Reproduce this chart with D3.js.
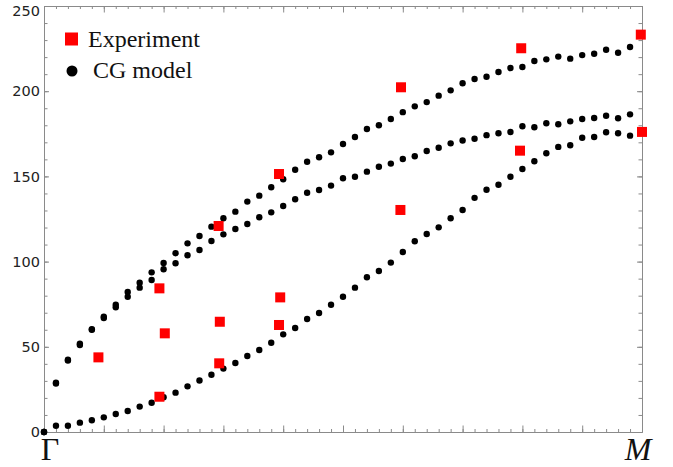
<!DOCTYPE html>
<html>
<head>
<meta charset="utf-8">
<script src="https://cdn.jsdelivr.net/npm/d3@7"></script>
<style>
  body { margin: 0; background: #fff; }
  .axis path, .axis line { stroke: #8a8a8a; }
  .axis text { font-family: "DejaVu Sans", sans-serif; font-size: 14.5px; fill: #222; }
</style>
</head>
<body>
<div id="chart-area"></div>
<script>
// wave vector along Gamma -> M (fraction of the path)
var qModel = [0, 0.02, 0.04, 0.06, 0.08, 0.10, 0.12, 0.14, 0.16, 0.18,
    0.20, 0.22, 0.24, 0.26, 0.28, 0.30, 0.32, 0.34, 0.36, 0.38,
    0.40, 0.42, 0.44, 0.46, 0.48, 0.50, 0.52, 0.54, 0.56, 0.58,
    0.60, 0.62, 0.64, 0.66, 0.68, 0.70, 0.72, 0.74, 0.76, 0.78,
    0.80, 0.82, 0.84, 0.86, 0.88, 0.90, 0.92, 0.94, 0.96, 0.98];

// CG model branches
var upperBranch = [0, 28.9, 42.4, 51.8, 60.3, 67.7, 74.7, 82.2, 87.6, 93.7,
    99.2, 104.9, 110.7, 115.0, 120.5, 125.4, 129.3, 135.2, 138.7, 143.6,
    148.3, 153.9, 158.6, 161.2, 164.1, 169.0, 173.1, 177.8, 180.0, 183.7,
    187.7, 191.1, 193.6, 197.4, 200.5, 204.7, 207.2, 208.5, 211.3, 213.6,
    214.2, 217.7, 218.7, 220.3, 219.1, 221.2, 222.0, 224.3, 222.6, 225.9];

var middleBranch = [0, 28.5, 42.0, 51.0, 60.0, 66.9, 73.2, 79.4, 84.7, 89.2,
    95.5, 99.0, 103.7, 106.8, 112.1, 116.0, 119.1, 122.1, 126.0, 128.9,
    132.6, 136.6, 140.4, 142.0, 144.6, 148.9, 149.8, 152.8, 155.7, 157.5,
    160.2, 161.8, 164.9, 166.8, 169.4, 171.1, 172.1, 174.2, 175.3, 176.1,
    179.4, 178.8, 181.2, 180.6, 182.3, 183.7, 184.3, 185.6, 184.1, 186.4];

var lowerBranch = [0, 3.7, 3.7, 5.5, 6.9, 8.6, 10.6, 12.3, 14.9, 17.2,
    20.4, 23.1, 26.8, 30.2, 33.6, 37.2, 40.5, 44.6, 48.1, 52.4,
    57.3, 61.0, 66.3, 69.8, 74.7, 79.4, 84.7, 90.8, 94.5, 99.4,
    105.6, 111.9, 116.2, 120.1, 125.4, 130.3, 137.4, 142.2, 145.1, 149.8,
    154.3, 158.9, 163.6, 167.3, 168.3, 172.7, 173.1, 175.9, 175.3, 173.9];

// Experiment
var qExp = [0.091, 0.193, 0.202, 0.193, 0.292, 0.294, 0.293, 0.393, 0.395, 0.393,
    0.597, 0.596, 0.798, 0.796, 0.998, 1.0];
var expValues = [43.8, 84.3, 57.9, 20.7, 120.9, 64.7, 40.3, 151.4, 79.0, 62.8,
    202.3, 130.3, 225.2, 165.1, 233.2, 176.1];

var yTickValues = [0, 50, 100, 150, 200, 250];
var xEndLabels = ["Γ", "M"];
var legendLabels = ["Experiment", "CG model"];

var width = 673, height = 467;
var margin = { left: 44, right: 642, top: 6, bottom: 432 };

var svg = d3.select("#chart-area").append("svg")
    .attr("width", width)
    .attr("height", height);

var x = d3.scaleLinear().domain([0, 1]).range([margin.left, margin.right]);
var y = d3.scaleLinear().domain([0, 250]).range([margin.bottom, margin.top]);

var xMinor = d3.range(0, 1.0001, 0.02), xMajor = d3.range(0, 1.0001, 0.1);
var yMinor = d3.range(0, 250.1, 10);

// Axes (ticks point inward)
svg.append("g").attr("class", "axis")
    .attr("transform", "translate(" + margin.left + ",0)")
    .call(d3.axisLeft(y).tickValues(yMinor).tickSizeInner(-3.5).tickSizeOuter(0).tickFormat(""));
var yAxis = svg.append("g").attr("class", "axis")
    .attr("transform", "translate(" + margin.left + ",0)")
    .call(d3.axisLeft(y).tickValues(yTickValues).tickSizeInner(-5).tickSizeOuter(0).tickPadding(4));
yAxis.selectAll("text").filter(function(d) { return d === 250; }).attr("dy", "0.64em");

svg.append("g").attr("class", "axis")
    .attr("transform", "translate(" + margin.right + ",0)")
    .call(d3.axisRight(y).tickValues(yMinor).tickSizeInner(-3.5).tickSizeOuter(0).tickFormat(""));
svg.append("g").attr("class", "axis")
    .attr("transform", "translate(" + margin.right + ",0)")
    .call(d3.axisRight(y).tickValues(yTickValues).tickSizeInner(-5).tickSizeOuter(0).tickFormat(""));

[[d3.axisBottom, margin.bottom], [d3.axisTop, margin.top]].forEach(function(a) {
    svg.append("g").attr("class", "axis")
        .attr("transform", "translate(0," + a[1] + ")")
        .call(a[0](x).tickValues(xMinor).tickSizeInner(-3).tickSizeOuter(0).tickFormat(""));
    svg.append("g").attr("class", "axis")
        .attr("transform", "translate(0," + a[1] + ")")
        .call(a[0](x).tickValues(xMajor).tickSizeInner(-6.5).tickSizeOuter(0).tickFormat(""));
});

// Gamma and M labels
svg.append("text")
    .attr("x", x(0) + 6).attr("y", 460)
    .attr("text-anchor", "middle")
    .style("font-family", "'Liberation Serif', serif")
    .style("font-size", "32px")
    .attr("fill", "#111")
    .text(xEndLabels[0]);
svg.append("text")
    .attr("x", x(1) - 4).attr("y", 460)
    .attr("text-anchor", "middle")
    .style("font-family", "'Liberation Serif', serif")
    .style("font-style", "italic")
    .style("font-size", "32px")
    .attr("fill", "#111")
    .text(xEndLabels[1]);

// CG model dots
var branches = [lowerBranch, middleBranch, upperBranch];
branches.forEach(function(values) {
    svg.append("g").selectAll("circle")
        .data(values)
        .enter().append("circle")
        .attr("cx", function(d, i) { return x(qModel[i]); })
        .attr("cy", function(d) { return y(d); })
        .attr("r", 3.2)
        .attr("fill", "#000");
});

// Experiment squares
var sq = 10;
svg.append("g").selectAll("rect")
    .data(expValues)
    .enter().append("rect")
    .attr("x", function(d, i) { return x(qExp[i]) - sq / 2; })
    .attr("y", function(d) { return y(d) - sq / 2; })
    .attr("width", sq)
    .attr("height", sq)
    .attr("fill", "#ff0000");

// Legend
var legend = svg.append("g");
legend.append("rect")
    .attr("x", 65).attr("y", 32.5)
    .attr("width", 13).attr("height", 13)
    .attr("fill", "#ff0000");
legend.append("circle")
    .attr("cx", 72).attr("cy", 71).attr("r", 5.5)
    .attr("fill", "#000");
legend.selectAll("text")
    .data(legendLabels)
    .enter().append("text")
    .attr("x", function(d, i) { return i === 0 ? 88 : 93; })
    .attr("y", function(d, i) { return i === 0 ? 47 : 78; })
    .style("font-family", "'Liberation Serif', serif")
    .style("font-size", "24px")
    .attr("fill", "#111")
    .text(function(d) { return d; });
</script>
</body>
</html>
